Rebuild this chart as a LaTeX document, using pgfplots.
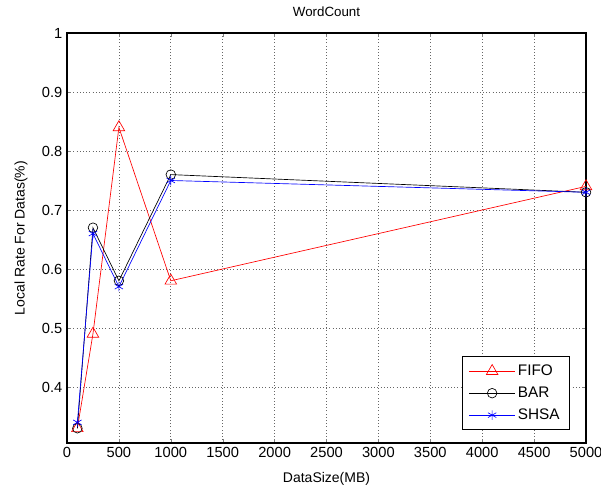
\documentclass[border=0pt]{standalone}
\usepackage{pgfplots}
\pgfplotsset{compat=1.18}
\usepackage{fontspec}
\setmainfont{Liberation Sans}

\begin{document}
\begin{tikzpicture}
  \begin{axis}[
      scale only axis,
      width=389.25pt, height=307.5pt,
      xmin=0, xmax=5000, ymin=0.305, ymax=1,
      xtick={0,500,...,5000},
      ytick={0.4,0.5,...,1.0},
      yticklabels={0.4,0.5,0.6,0.7,0.8,0.9,1},
      scaled x ticks=false,
      xticklabel style={/pgf/number format/1000 sep={}},
      /pgf/number format/assume math mode=true,
      tick label style={font=\fontsize{11}{13}\selectfont},
      label style={font=\fontsize{10.5}{12}\selectfont},
      title style={font=\fontsize{10}{12}\selectfont, yshift=3pt},
      title={WordCount},
      xlabel={DataSize(MB)},
      ylabel={Local Rate For Datas(\%)},
      xlabel style={yshift=-4pt},
      ylabel style={yshift=4pt},
      grid=major,
      major grid style={black!60, dotted, line width=0.6pt},
      tick align=inside,
      tick pos=both,
      major tick length=3pt,
      axis line style={line width=0.8pt},
      legend style={at={(0.968,0.032)}, anchor=south east,
        font=\fontsize{11.5}{14}\selectfont, draw=black, line width=0.6pt,
        row sep=3pt, inner xsep=5pt, inner ysep=4pt},
      legend cell align=left,
      legend image code/.code={
        \draw[mark repeat=2, mark phase=2] plot coordinates {(0cm,0cm) (0.6cm,0cm) (1.2cm,0cm)};
      },
    ]
    \addplot[red, mark=triangle, mark size=5pt, line width=0.5pt] coordinates {
      (100,0.33) (250,0.49) (500,0.84) (1000,0.58) (5000,0.74)
    };
    \addlegendentry{FIFO}
    \addplot[black, mark=o, mark size=3.6pt, line width=0.5pt] coordinates {
      (100,0.33) (250,0.67) (500,0.58) (1000,0.76) (5000,0.73)
    };
    \addlegendentry{BAR}
    \addplot[blue, mark=asterisk, mark size=3.6pt, line width=0.5pt] coordinates {
      (100,0.34) (250,0.66) (500,0.57) (1000,0.75) (5000,0.73)
    };
    \addlegendentry{SHSA}
    \coordinate (bbA) at (rel axis cs:-0.1291,-0.1098);
    \coordinate (bbB) at (rel axis cs:1.0289,1.0805);
  \end{axis}
  \pgfresetboundingbox
  \path[use as bounding box] (bbA) rectangle (bbB);
\end{tikzpicture}
\end{document}
